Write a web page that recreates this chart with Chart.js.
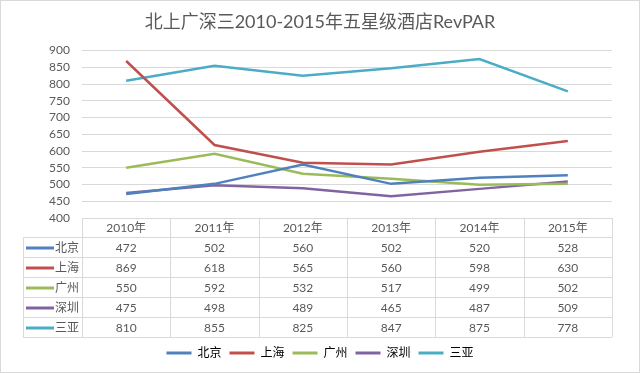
<!DOCTYPE html>
<html>
<head>
<meta charset="utf-8">
<script src="https://cdn.jsdelivr.net/npm/chart.js@4.4.0/dist/chart.umd.min.js"></script>
<style>
html, body { margin: 0; padding: 0; background: #fff; }
#wrap { width: 640px; height: 373px; box-sizing: border-box; border: 1px solid #d9d9d9; }
</style>
</head>
<body>
<div id="wrap"><canvas id="chart"></canvas></div>
<script>
// 数据
const years = ['2010年', '2011年', '2012年', '2013年', '2014年', '2015年'];
const cities = ['北京', '上海', '广州', '深圳', '三亚'];
const beijing = [472, 502, 560, 502, 520, 528];
const shanghai = [869, 618, 565, 560, 598, 630];
const guangzhou = [550, 592, 532, 517, 499, 502];
const shenzhen = [475, 498, 489, 465, 487, 509];
const sanya = [810, 855, 825, 847, 875, 778];
const colors = ['#4F81BD', '#C0504D', '#9BBB59', '#8064A2', '#4BACC6'];
const yMin = 400, yMax = 900, yStep = 50;

const series = [beijing, shanghai, guangzhou, shenzhen, sanya];
const textColor = '#595959';
const gridColor = '#d9d9d9';
const fontFamily = 'Lato, "Noto Sans CJK SC", sans-serif';

Chart.defaults.font.family = fontFamily;
Chart.defaults.color = textColor;

// 图表下方的数据表
const dataTablePlugin = {
    id: 'dataTable',
    afterDraw(chart) {
        const { ctx, chartArea } = chart;
        const x = chart.scales.x;
        const top = Math.round(chartArea.bottom);
        const left = Math.round(chartArea.left);
        const right = Math.round(chartArea.right);
        const colW = (right - left) / years.length;
        const headH = 19, rowH = 20;
        const keyLeft = 22;
        const bottom = top + headH + rowH * cities.length;

        ctx.save();
        ctx.strokeStyle = gridColor;
        ctx.lineWidth = 1;
        ctx.beginPath();
        // 横线
        ctx.moveTo(left, top + 0.5); ctx.lineTo(right, top + 0.5);
        for (let r = 0; r <= cities.length; r++) {
            const y = top + headH + r * rowH + 0.5;
            ctx.moveTo(keyLeft, y); ctx.lineTo(right, y);
        }
        // 竖线
        for (let c = 0; c <= years.length; c++) {
            const xx = Math.round(left + c * colW) + 0.5;
            ctx.moveTo(xx, top); ctx.lineTo(xx, bottom);
        }
        ctx.moveTo(keyLeft + 0.5, top + headH); ctx.lineTo(keyLeft + 0.5, bottom);
        ctx.stroke();

        ctx.font = '12px ' + fontFamily;
        ctx.fillStyle = textColor;
        ctx.textAlign = 'center';
        ctx.textBaseline = 'middle';
        years.forEach((yr, i) => {
            ctx.fillText(yr, x.getPixelForValue(i), top + headH / 2 + 1);
        });

        cities.forEach((name, r) => {
            const yc = top + headH + r * rowH + rowH / 2 + 1;
            ctx.fillStyle = colors[r];
            ctx.fillRect(keyLeft + 3, yc - 1.5, 28, 3);
            ctx.fillStyle = textColor;
            ctx.textAlign = 'left';
            ctx.fillText(name, keyLeft + 32, yc);
            ctx.textAlign = 'center';
            series[r].forEach((v, i) => {
                ctx.fillText(String(v), x.getPixelForValue(i), yc);
            });
        });
        ctx.restore();
    }
};

const ctx = document.getElementById('chart').getContext('2d');
new Chart(ctx, {
    type: 'line',
    data: {
        labels: years,
        datasets: cities.map((name, i) => ({
            label: name,
            data: series[i],
            borderColor: colors[i],
            backgroundColor: colors[i],
            borderWidth: 2.5,
            pointRadius: 0,
            tension: 0,
            fill: false
        }))
    },
    options: {
        responsive: true,
        maintainAspectRatio: false,
        animation: false,
        layout: { padding: { left: 0, right: 0, top: 0, bottom: 3 } },
        scales: {
            x: {
                offset: true,
                grid: { display: false },
                border: { display: false },
                ticks: { display: false },
                afterFit(scale) { scale.height = 121; }
            },
            y: {
                min: yMin,
                max: yMax,
                ticks: { stepSize: yStep, autoSkip: false, padding: 12, font: { size: 12 }, color: textColor },
                grid: { color: gridColor, drawTicks: false },
                border: { display: false },
                afterFit(scale) { scale.width = 81; }
            },
            // 右侧留白
            yRight: {
                position: 'right',
                min: yMin,
                max: yMax,
                ticks: { display: false },
                grid: { display: false },
                border: { display: false },
                afterFit(scale) { scale.width = 27; }
            }
        },
        plugins: {
            title: {
                display: true,
                text: '北上广深三2010-2015年五星级酒店RevPAR',
                color: textColor,
                font: { size: 18, weight: 'normal' },
                padding: { top: 10, bottom: 18 }
            },
            legend: {
                position: 'bottom',
                labels: {
                    boxWidth: 25,
                    boxHeight: 3,
                    padding: 8,
                    color: textColor,
                    font: { size: 12 },
                    generateLabels(chart) {
                        return chart.data.datasets.map((ds, i) => ({
                            text: ds.label,
                            fillStyle: colors[i],
                            strokeStyle: colors[i],
                            lineWidth: 0,
                            datasetIndex: i,
                            hidden: false
                        }));
                    }
                }
            },
            tooltip: { enabled: false }
        }
    },
    plugins: [dataTablePlugin]
});
</script>
</body>
</html>
